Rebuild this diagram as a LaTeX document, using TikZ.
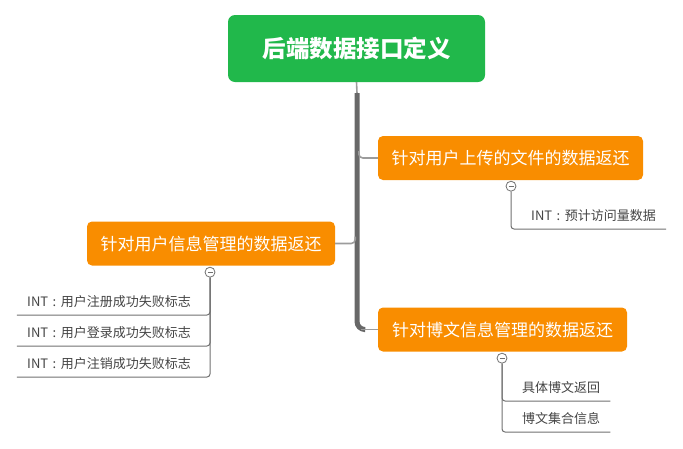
\documentclass[tikz,border=0pt]{standalone}
\usepackage{fontspec}
\setmainfont{Noto Sans CJK SC}
\usetikzlibrary{calc}
\definecolor{rootgreen}{HTML}{21B84B}
\definecolor{topicorange}{HTML}{F98D00}
\definecolor{trunkgray}{HTML}{686868}
\definecolor{branchgray}{HTML}{9C9C9C}
\definecolor{leafgray}{HTML}{707070}
\definecolor{leaftext}{HTML}{444444}
\newcommand{\intlabel}{INT\hspace{4.5pt}:\hspace{4.5pt}}
\tikzset{
  rootbox/.style={draw=none, fill=rootgreen, rounded corners=7pt, text=white,
    minimum width=257pt, minimum height=67pt, inner sep=0pt,
    font=\fontsize{23.5}{27}\selectfont\bfseries},
  topicbox/.style={draw=none, fill=topicorange, rounded corners=5pt, text=white,
    minimum height=44pt, inner sep=0pt, font=\fontsize{17}{20}\selectfont},
  toggle/.style={circle, draw=leafgray, fill=white, line width=0.8pt,
    minimum size=10pt, inner sep=0pt,
    path picture={\draw[leafgray, line width=0.8pt]
      ($(path picture bounding box.center)+(-2.5pt,0)$) -- ++(5pt,0);}},
  leaf/.style={text=leaftext, inner xsep=10pt, inner ysep=0pt,
    minimum height=27pt, font=\fontsize{13}{15}\selectfont},
  trunk/.style={draw=trunkgray, line width=5pt},
  branch/.style={draw=branchgray, line width=1.6pt},
  leafline/.style={draw=leafgray, line width=1pt, rounded corners=3pt},
}
\begin{document}
\begin{tikzpicture}[x=1pt, y=-1pt]
\useasboundingbox (0,0) rectangle (683,448);

% central topic and its three subtopics
\node[rootbox] (root) at (356.5,48.5) {后端数据接口定义};
\node[topicbox, minimum width=265pt] (b1) at (510.5,158) {针对用户上传的文件的数据返还};
\node[topicbox, minimum width=248pt] (b2) at (211,243.5) {针对用户信息管理的数据返还};
\node[topicbox, minimum width=249pt] (b3) at (502.5,329.5) {针对博文信息管理的数据返还};

% main trunk
\coordinate (t0) at (357,93);
\draw[branch] (root.south) -- (t0);
\draw[trunk, rounded corners=8pt] (t0) |- ($(b3.west)+(-14,0)$);
\draw[branch] ($(b3.west)+(-17,0)$) -- (b3.west);
\draw[branch, rounded corners=4pt] ($(b1.west)+(-19,-7)$) |- (b1.west);
\draw[branch, rounded corners=4pt] ($(b2.east)+(20,-7)$) |- (b2.east);

% collapse toggles
\node[toggle] (c1) at ($(b1.south)+(0.5,6)$) {};
\node[toggle] (c2) at ($(b2.south)+(-1,6.5)$) {};
\node[toggle] (c3) at ($(b3.south)+(-0.5,6.5)$) {};

% leaves of the first subtopic
\node[leaf, anchor=south west] (l1) at (521,229) {\intlabel 预计访问量数据};
\draw[leafline] (c1.south) |- (l1.south east);

% leaves of the second subtopic
\node[leaf, anchor=south east] (l2a) at (201,315) {\intlabel 用户注册成功失败标志};
\node[leaf, anchor=south east] (l2b) at (201,346) {\intlabel 用户登录成功失败标志};
\node[leaf, anchor=south east] (l2c) at (201,377) {\intlabel 用户注销成功失败标志};
\draw[leafline] (c2.south) |- (l2a.south west);
\draw[leafline] (c2.south) |- (l2b.south west);
\draw[leafline] (c2.south) |- (l2c.south west);

% leaves of the third subtopic
\node[leaf, anchor=south west] (l3a) at (512,401) {具体博文返回};
\node[leaf, anchor=south west] (l3b) at (512,432) {博文集合信息};
\draw[leafline] (c3.south) |- (l3a.south east);
\draw[leafline] (c3.south) |- (l3b.south east);
\end{tikzpicture}
\end{document}
